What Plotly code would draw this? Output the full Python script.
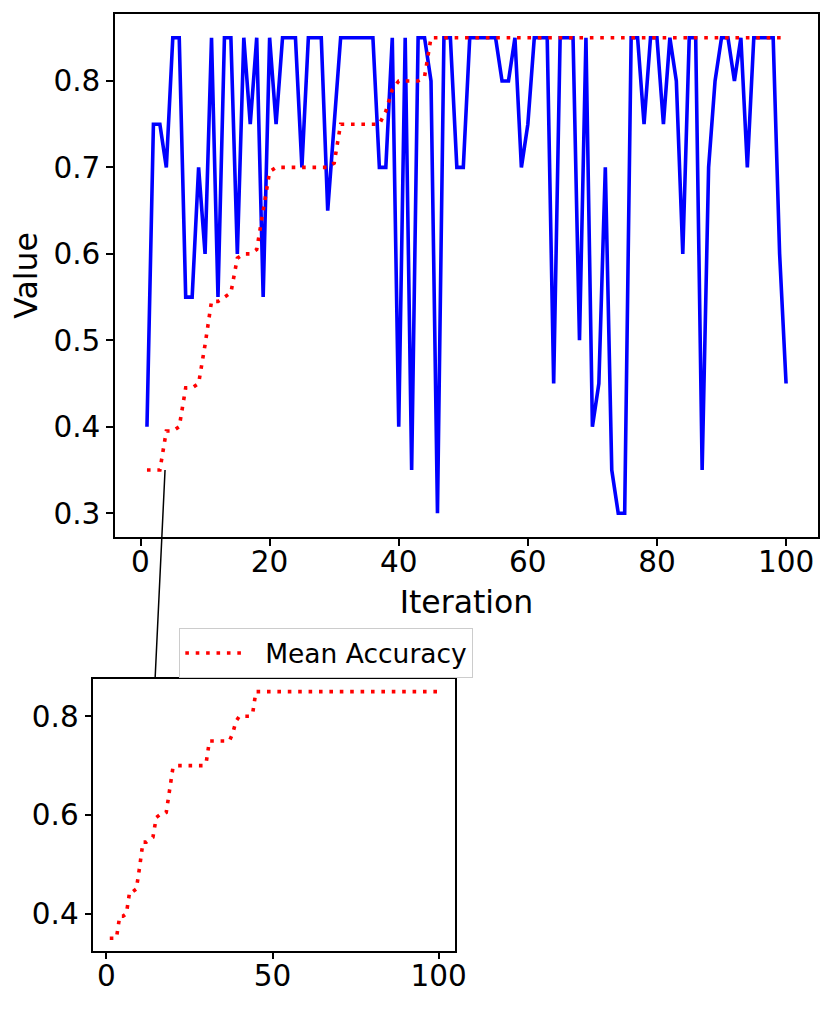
import plotly.graph_objects as go

# iteration index and the two series
iterations = list(range(1, 101))

values = [
    0.40, 0.75, 0.75, 0.70, 0.85, 0.85, 0.55, 0.55, 0.70, 0.60,
    0.85, 0.55, 0.85, 0.85, 0.60, 0.85, 0.75, 0.85, 0.55, 0.85,
    0.75, 0.85, 0.85, 0.85, 0.70, 0.85, 0.85, 0.85, 0.65, 0.75,
    0.85, 0.85, 0.85, 0.85, 0.85, 0.85, 0.70, 0.70, 0.85, 0.40,
    0.85, 0.35, 0.85, 0.85, 0.80, 0.30, 0.85, 0.85, 0.70, 0.70,
    0.85, 0.85, 0.85, 0.85, 0.85, 0.80, 0.80, 0.85, 0.70, 0.75,
    0.85, 0.85, 0.85, 0.45, 0.85, 0.85, 0.85, 0.50, 0.85, 0.40,
    0.45, 0.70, 0.35, 0.30, 0.30, 0.85, 0.85, 0.75, 0.85, 0.85,
    0.75, 0.85, 0.80, 0.60, 0.85, 0.85, 0.35, 0.70, 0.80, 0.85,
    0.85, 0.80, 0.85, 0.70, 0.85, 0.85, 0.85, 0.85, 0.60, 0.45,
]

mean_accuracy = [
    0.35, 0.35, 0.35, 0.395, 0.395, 0.40, 0.445, 0.445, 0.45, 0.495,
    0.545, 0.545, 0.55, 0.555, 0.595, 0.60, 0.60, 0.605, 0.65, 0.695,
    0.70, 0.70, 0.70, 0.70, 0.70, 0.70, 0.70, 0.70, 0.70, 0.705,
    0.75, 0.75, 0.75, 0.75, 0.75, 0.75, 0.75, 0.765, 0.79, 0.80,
    0.80, 0.80, 0.80, 0.805, 0.85, 0.85, 0.85, 0.85, 0.85, 0.85,
] + [0.85] * 50

main_xticks = [0, 20, 40, 60, 80, 100]
main_yticks = [0.3, 0.4, 0.5, 0.6, 0.7, 0.8]
inset_xticks = [0, 50, 100]
inset_yticks = [0.4, 0.6, 0.8]

FONT = "DejaVu Sans"
dots = "3.6px,6.8px"

fig = go.Figure()

fig.add_trace(go.Scatter(
    x=iterations, y=values, mode="lines",
    line=dict(color="blue", width=3.6),
    showlegend=False, xaxis="x", yaxis="y",
))
fig.add_trace(go.Scatter(
    x=iterations, y=mean_accuracy, mode="lines",
    name="\u00a0\u00a0Mean Accuracy",  # nbsp pad = gap after the legend line
    line=dict(color="red", width=3.6, dash=dots),
    xaxis="x", yaxis="y",
))
fig.add_trace(go.Scatter(
    x=iterations, y=mean_accuracy, mode="lines",
    line=dict(color="red", width=3.6, dash=dots),
    showlegend=False, xaxis="x2", yaxis="y2",
))

axis_style = dict(
    showline=True, linecolor="black", linewidth=1.5, mirror=True,
    ticks="outside", ticklen=7, tickwidth=1.5, tickcolor="black",
    showgrid=False, zeroline=False, automargin=False,
    tickfont=dict(family=FONT, size=29.5, color="black"),
)

# the page adds an 8px body margin, so the figure is 16px smaller than the window
fig.update_layout(
    width=815, height=993,
    margin=dict(l=0, r=0, t=0, b=0, autoexpand=False),
    paper_bgcolor="white", plot_bgcolor="white",
    font=dict(family=FONT, color="black"),
    xaxis=dict(
        domain=[0.1313, 0.9939], range=[-3.95, 104.95],
        tickvals=main_xticks, anchor="y", ticklabelstandoff=-9,
        title=dict(text="Iteration", font=dict(size=31.5), standoff=13),
        **axis_style,
    ),
    yaxis=dict(
        domain=[0.4673, 0.9940], range=[0.2725, 0.8775],
        tickvals=main_yticks, tickformat=".1f", anchor="x",
        title=dict(text="Value", font=dict(size=31.5), standoff=8),
        **axis_style,
    ),
    xaxis2=dict(
        domain=[0.1047, 0.5485], range=[-3.95, 104.95],
        tickvals=inset_xticks, anchor="y2", ticklabelstandoff=-9,
        **axis_style,
    ),
    yaxis2=dict(
        domain=[0.0507, 0.3240], range=[0.325, 0.875],
        tickvals=inset_yticks, tickformat=".1f", anchor="x2",
        **axis_style,
    ),
    legend=dict(
        x=0.2102, y=0.3753, xanchor="left", yanchor="top",
        bgcolor="white", bordercolor="#cccccc", borderwidth=1,
        itemwidth=58,
        font=dict(family=FONT, size=26.5, color="black"),
    ),
)

# connector from the zoomed region to the inset
fig.add_annotation(
    x=3.8, y=0.35, xref="x", yref="y",
    ax=-10, ay=210, text="", showarrow=True,
    arrowhead=0, arrowwidth=1.5, arrowcolor="black", standoff=0,
)

fig.write_html("out.html")
